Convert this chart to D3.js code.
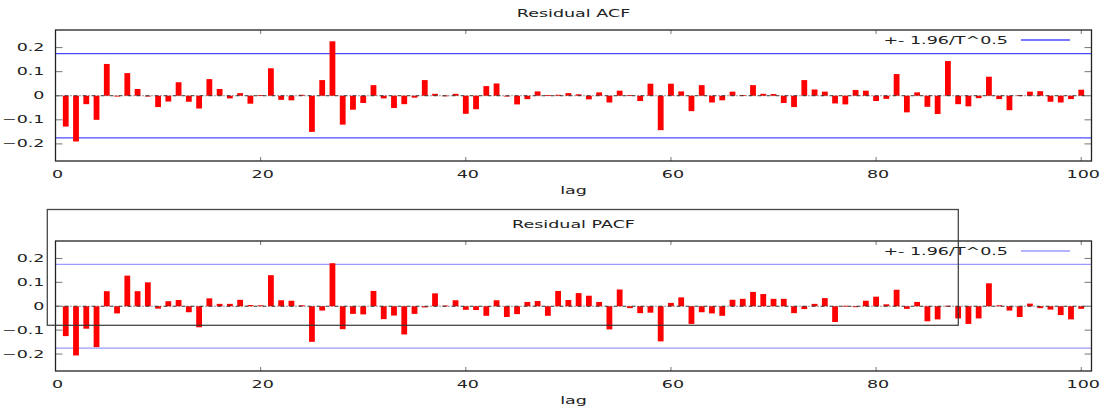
<!DOCTYPE html>
<html>
<head>
<meta charset="utf-8">
<script src="https://cdn.jsdelivr.net/npm/d3@7"></script>
<style>
  body { margin: 0; background: #fff; }
  svg text { font-family: "DejaVu Sans", sans-serif; font-size: 10px; fill: #222; }
</style>
</head>
<body>
<svg id="chart" width="1104" height="406"></svg>
<script>
(function () {
    'use strict';

    // residual ACF, lags 1..100
    var acf = [
        -0.128, -0.19, -0.035, -0.10, 0.132, -0.002, 0.094, 0.028, -0.003, -0.047,
        -0.024, 0.056, -0.025, -0.053, 0.069, 0.028, -0.011, 0.011, -0.033, 0.003,
        0.114, -0.017, -0.019, 0.004, -0.15, 0.065, 0.226, -0.12, -0.058, -0.03,
        0.044, -0.011, -0.051, -0.035, -0.008, 0.065, 0.008, 0.001, 0.008, -0.075,
        -0.056, 0.04, 0.051, -0.002, -0.036, -0.014, 0.018, 0.003, 0.004, 0.011,
        0.006, -0.015, 0.014, -0.028, 0.021, 0.003, -0.022, 0.05, -0.143, 0.05,
        0.018, -0.064, 0.044, -0.028, -0.019, 0.017, 0.003, 0.044, 0.008, 0.007,
        -0.03, -0.047, 0.065, 0.026, 0.017, -0.032, -0.036, 0.024, 0.021, -0.022,
        -0.013, 0.09, -0.069, 0.014, -0.046, -0.076, 0.144, -0.035, -0.044, -0.01,
        0.079, -0.014, -0.06, 0.002, 0.017, 0.019, -0.025, -0.028, -0.014, 0.025
    ];

    // residual PACF, lags 1..100
    var pacf = [
        -0.125, -0.206, -0.094, -0.171, 0.063, -0.03, 0.128, 0.063, 0.1, -0.01,
        0.021, 0.026, -0.025, -0.088, 0.033, 0.01, 0.01, 0.027, 0.005, 0.004,
        0.13, 0.025, 0.023, 0.004, -0.149, -0.018, 0.18, -0.096, -0.032, -0.034,
        0.064, -0.054, -0.039, -0.118, -0.032, -0.005, 0.054, 0.003, 0.025, -0.015,
        -0.016, -0.04, 0.025, -0.045, -0.033, 0.018, 0.022, -0.04, 0.064, 0.026,
        0.055, 0.044, 0.018, -0.097, 0.07, -0.008, -0.029, -0.027, -0.147, 0.014,
        0.037, -0.074, -0.025, -0.03, -0.04, 0.027, 0.031, 0.06, 0.051, 0.031,
        0.031, -0.029, -0.012, 0.01, 0.034, -0.066, 0.002, -0.004, 0.023, 0.04,
        0.008, 0.069, -0.011, 0.018, -0.063, -0.055, 0.002, -0.051, -0.074, -0.051,
        0.096, 0.004, -0.018, -0.045, 0.011, -0.008, -0.014, -0.037, -0.055, -0.011
    ];

    var bandValue = 0.1753;   // 1.96/sqrt(T)
    var xTicks = [0, 20, 40, 60, 80, 100];
    var yTicks = [-0.2, -0.1, 0, 0.1, 0.2];
    var titles = ['Residual ACF', 'Residual PACF'];
    var legendLabel = '+- 1.96/T^0.5';
    var xLabel = 'lag';

    var STRETCH = 1.75;   // the original png has wide, stretched glyphs
    var svg = d3.select('#chart');

    var x = d3.scaleLinear().domain([0, 101]).range([55.5, 1091.5]);

    function stretchedText(g, px, py, str, anchor) {
        return g.append('text')
            .attr('transform', 'translate(' + px + ',' + py + ') scale(' + STRETCH + ',1)')
            .attr('text-anchor', anchor)
            .attr('dy', '0.35em')
            .text(str);
    }

    function panel(values, top, bottom, title, blue) {
        var g = svg.append('g');
        var y = d3.scaleLinear().domain([-0.271, 0.273]).range([bottom, top]);

        // title
        stretchedText(g, 573.5, top - 16.5, title, 'middle');

        // confidence band lines
        g.selectAll('line.band')
            .data([bandValue, -bandValue]).enter()
            .append('line')
            .attr('class', 'band')
            .attr('x1', x.range()[0]).attr('x2', x.range()[1])
            .attr('y1', function (d) { return y(d); })
            .attr('y2', function (d) { return y(d); })
            .attr('stroke', blue).attr('stroke-width', 1.3);

        // bars
        var bw = 5.8;
        g.selectAll('rect.bar')
            .data(values).enter()
            .append('rect')
            .attr('class', 'bar')
            .attr('x', function (d, i) { return x(i + 1) - bw / 2; })
            .attr('width', bw)
            .attr('y', function (d) { return y(Math.max(0, d)); })
            .attr('height', function (d) { return Math.max(0.8, Math.abs(y(d) - y(0))); })
            .attr('fill', '#ff0000');

        // zero axis, dash-dot
        g.append('line')
            .attr('x1', x.range()[0]).attr('x2', x.range()[1])
            .attr('y1', y(0)).attr('y2', y(0))
            .attr('stroke', '#333').attr('stroke-width', 1)
            .attr('stroke-dasharray', '4,2,1,2');

        // ticks, mirrored on all sides, pointing inward
        var tick = g.append('g').attr('stroke', '#777').attr('stroke-width', 1);
        yTicks.forEach(function (t) {
            tick.append('line').attr('x1', x.range()[0]).attr('x2', x.range()[0] + 7)
                .attr('y1', y(t)).attr('y2', y(t));
            tick.append('line').attr('x1', x.range()[1]).attr('x2', x.range()[1] - 7)
                .attr('y1', y(t)).attr('y2', y(t));
        });
        xTicks.forEach(function (t) {
            tick.append('line').attr('x1', x(t)).attr('x2', x(t))
                .attr('y1', bottom).attr('y2', bottom - 4);
            tick.append('line').attr('x1', x(t)).attr('x2', x(t))
                .attr('y1', top).attr('y2', top + 4);
        });

        // frame
        g.append('rect')
            .attr('x', x.range()[0]).attr('y', top)
            .attr('width', x.range()[1] - x.range()[0]).attr('height', bottom - top)
            .attr('fill', 'none').attr('stroke', '#222').attr('stroke-width', 1.3);

        // tick labels
        yTicks.forEach(function (t) {
            stretchedText(g, 44.5, y(t), t === 0 ? '0' : d3.format('.1f')(t), 'end');
        });
        xTicks.forEach(function (t) {
            stretchedText(g, x(t) + 2, bottom + 13, String(t), 'middle');
        });
        stretchedText(g, 573.5, bottom + 29, xLabel, 'middle');

        // legend
        var ly = top + 10;
        stretchedText(g, 1008, ly, legendLabel, 'end');
        g.append('line')
            .attr('x1', 1021).attr('x2', 1070)
            .attr('y1', ly).attr('y2', ly)
            .attr('stroke', blue).attr('stroke-width', 1.3);

        return g;
    }

    panel(acf, 30, 161, titles[0], '#4a4aff');
    var p2 = panel(pacf, 241, 371, titles[1], '#9a9aff');

    // stray key box from the original gnuplot output
    p2.append('rect')
        .attr('x', 47.3).attr('y', 209.5)
        .attr('width', 958.3 - 47.3).attr('height', 325.3 - 209.5)
        .attr('fill', 'none').attr('stroke', '#333').attr('stroke-width', 1.3)
        .attr('stroke-opacity', 0.9);
})();
</script>
</body>
</html>
